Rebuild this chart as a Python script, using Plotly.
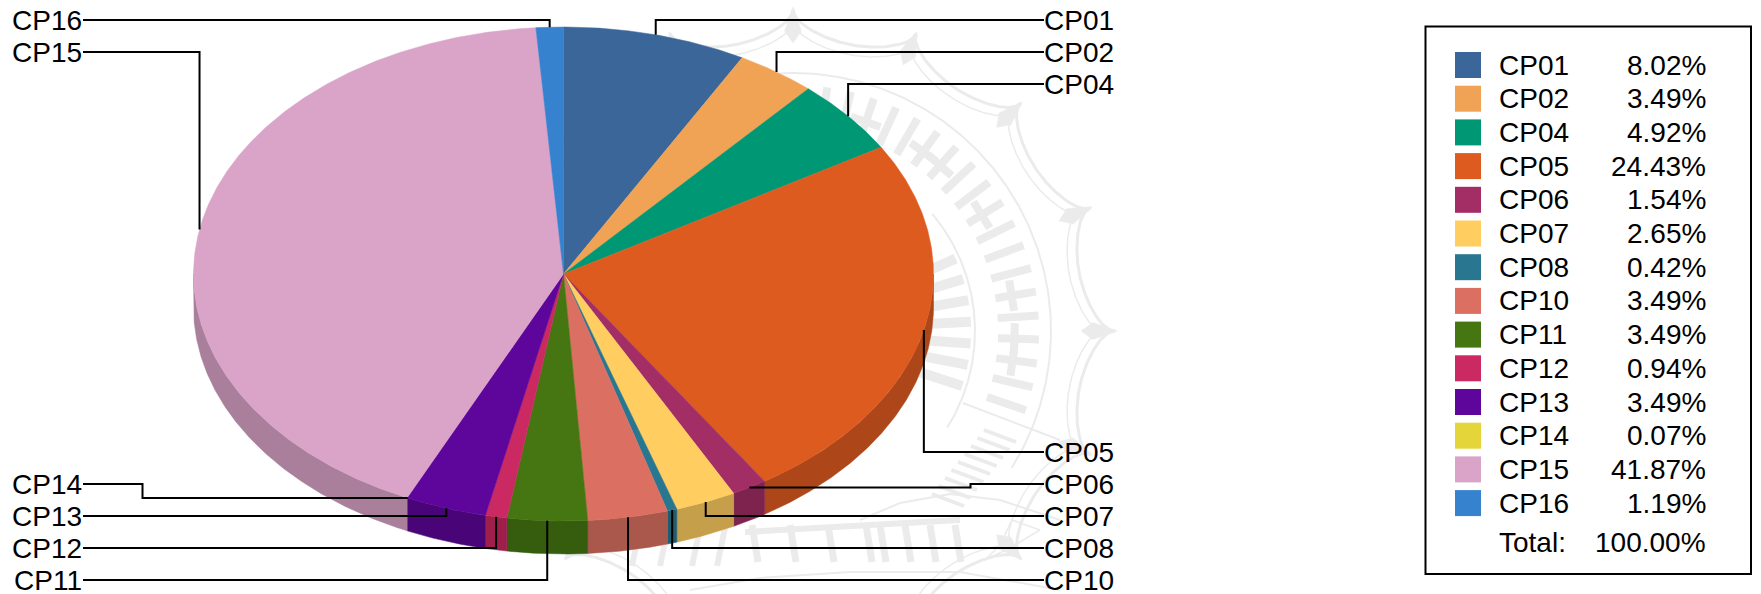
import numpy as np
import plotly.graph_objects as go

# ---- data ----
categories = ["CP01","CP02","CP04","CP05","CP06","CP07","CP08","CP10","CP11","CP12","CP13","CP14","CP15","CP16"]
percent = [8.02,3.49,4.92,24.43,1.54,2.65,0.42,3.49,3.49,0.94,3.49,0.07,41.87,1.19]
total_label = "100.00%"
colors = ["#3A6699","#F0A354","#009874","#DE5B1F","#A22E65","#FFCD60","#297690","#DB7062",
          "#467611","#CB2961","#5E069B","#E4D63A","#D9A4C8","#3682CF"]

# ---- leader-label layout: category -> (side, label row y, optional elbow x) ----
label_rows = {"CP01":("r",20,None),"CP02":("r",52,None),"CP04":("r",84,None),"CP05":("r",452,None),
              "CP06":("r",484,970.5),"CP07":("r",516,None),"CP08":("r",548,None),"CP10":("r",580,None),
              "CP11":("l",580,None),"CP12":("l",548,None),"CP13":("l",516,None),"CP14":("l",484,142.5),
              "CP15":("l",52,None),"CP16":("l",20,None)}

CX, CY, RX, RY, DEPTH = 563.5, 274.0, 370.0, 247.0, 33.0
SIDE_SHADE = 0.78
FONT = "Liberation Sans"
FS = 28
THIN = 0.1   # slices below this percent are too thin to paint, as in the reference

def shade(hexcol, k):
    r, g, b = int(hexcol[1:3],16), int(hexcol[3:5],16), int(hexcol[5:7],16)
    return "rgb(%d,%d,%d)" % (r*k, g*k, b*k)

def rim(t):
    t = np.radians(t)
    return CX + RX*np.sin(t), CY - RY*np.cos(t)

fig = go.Figure()

def poly(x, y, color):
    fig.add_trace(go.Scatter(x=list(x), y=list(y), mode="lines", fill="toself", fillcolor=color,
                             line=dict(width=0.5, color=color), hoverinfo="skip", showlegend=False))

def stroke(x, y, color="#000000", width=2.0):
    fig.add_trace(go.Scatter(x=list(x), y=list(y), mode="lines", line=dict(width=width, color=color),
                             hoverinfo="skip", showlegend=False))

# ---- faint seal watermark behind the pie ----
WM = "#EBEBEB"
SX, SY = 793.0, 331.0
def polar(r, deg):
    a = np.radians(deg)
    return SX + r*np.cos(a), SY + r*np.sin(a)

phi = np.linspace(0, 360, 1441)
for base, amp, w in [(322, 30, 3), (310, 28, 1.5)]:
    frac = (phi / 22.5) % 1
    r = base - amp*np.sqrt(np.abs(np.sin(np.pi*frac)))
    x, y = polar(r, phi)
    stroke(x, y, WM, w)
# filled tips of the scallops
for a in np.arange(0, 360, 22.5):
    rr = np.array([324.0, 300.0, 288.0, 300.0, 324.0])
    aa = np.array([a, a-1.6, a, a+1.6, a])
    x, y = polar(rr, aa)
    poly(x, y, WM)
# rings
for r_, a0, a1, w in [(182, -40, 32, 2), (258, -95, 32, 2)]:
    t = np.linspace(a0, a1, 200)
    x, y = polar(r_, t)
    stroke(x, y, WM, w)
# sun-ray ticks
for a in np.arange(-24, 25, 7.0):
    x, y = polar(np.array([128.0, 178.0]), a)
    stroke(x, y, WM, 10)
# lettering blocks in the text ring
for a in np.arange(-82, 22, 5.6):
    x, y = polar(np.array([205.0, 246.0]), a)
    stroke(x, y, WM, 8)
    if int(a*2) % 3 == 0:
        x, y = polar(np.array([222.0, 222.0]), np.array([a-4, a+4]))
        stroke(x, y, WM, 8)
# lower-right ladder, banner and lower lettering
stroke([963, 1060], [403, 440], WM, 2)
for i in range(9):
    stroke([1000-6.5*i-16, 1000-6.5*i+16], [430+8*i, 442+8*i], WM, 4)
stroke([860, 900, 950, 1000, 1060], [520, 503, 494, 500, 520], WM, 2)
stroke([690, 760, 850, 960, 1060], [590, 578, 572, 572, 590], WM, 2)
for xb in [752, 790, 828, 866, 880, 905, 930, 955]:
    stroke([xb, xb+6], [525, 562], WM, 7)
stroke([745, 960], [532, 520], WM, 6)
for xb in [640, 668, 700, 725]:
    stroke([xb, xb-8], [528, 566], WM, 6)
stroke([1000, 1012, 1040, 1010, 985, 1000], [545, 520, 530, 548, 560, 545], WM, 1.5)

# ---- slices computed from the values ----
cum = np.cumsum([0.0] + percent)
theta = cum / cum[-1] * 360.0

def slice_span(i):
    end = theta[i+1]
    if i + 1 < len(percent) and percent[i+1] < THIN:
        end = theta[i+2]          # the neighbour covers a hairline slice
    return theta[i], end

# front wall
for i, col in enumerate(colors):
    if percent[i] < THIN:
        continue
    s0, s1 = slice_span(i)
    a0, a1 = max(s0, 90.0), min(s1, 270.0)
    if a1 <= a0:
        continue
    t = np.linspace(a0, a1, max(3, int((a1-a0)*3)))
    x, y = rim(t)
    poly(np.r_[x, x[::-1], x[0]], np.r_[y, y[::-1]+DEPTH, y[0]], shade(col, SIDE_SHADE))

# top face
for i, col in enumerate(colors):
    if percent[i] < THIN:
        continue
    s0, s1 = slice_span(i)
    t = np.linspace(s0, s1, max(3, int((s1-s0)*3)))
    x, y = rim(t)
    poly(np.r_[CX, x, CX], np.r_[CY, y, CY], col)

# ---- leaders, anchored at each slice's mid angle ----
annotations = []
for i, cat in enumerate(categories):
    side, row, elbow = label_rows[cat]
    ax, ay = rim((theta[i] + theta[i+1]) / 2)
    x0 = 1044.0 if side == "r" else 83.0
    if elbow is None:
        xs, ys = [x0, ax, ax], [row, row, ay]
    else:
        xs, ys = [x0, elbow, elbow, ax], [row, row, ay, ay]
    stroke(xs, ys)
    annotations.append(dict(x=1043 if side == "r" else 83, y=row, xref="x", yref="y", text=cat, showarrow=False,
                            xanchor="left" if side == "r" else "right", yanchor="middle",
                            font=dict(family=FONT, size=FS, color="#000000"), borderpad=0))

# ---- legend ----
LEG_Y0, LEG_DY = 65.0, 33.7
rows = [LEG_Y0 + LEG_DY*i for i in range(len(categories))]
fig.add_trace(go.Scatter(x=[1468]*len(categories), y=rows, mode="markers",
                         marker=dict(symbol="square", size=26, color=colors, line=dict(width=0)),
                         hoverinfo="skip", showlegend=False))
for cat, v, yy in zip(categories, percent, rows):
    annotations.append(dict(x=1497.5, y=yy, xref="x", yref="y", text=cat, showarrow=False, xanchor="left",
                            yanchor="middle", font=dict(family=FONT, size=FS, color="#000000"), borderpad=0))
    annotations.append(dict(x=1707, y=yy, xref="x", yref="y", text="%.2f%%" % v, showarrow=False, xanchor="right",
                            yanchor="middle", font=dict(family=FONT, size=FS, color="#000000"), borderpad=0))
annotations.append(dict(x=1497.5, y=542, xref="x", yref="y", text="Total:", showarrow=False, xanchor="left",
                        yanchor="middle", font=dict(family=FONT, size=FS, color="#000000"), borderpad=0))
annotations.append(dict(x=1707, y=542, xref="x", yref="y", text=total_label, showarrow=False, xanchor="right",
                        yanchor="middle", font=dict(family=FONT, size=FS, color="#000000"), borderpad=0))

fig.update_layout(
    width=1761, height=594, margin=dict(l=0, r=0, t=0, b=0), paper_bgcolor="#FFFFFF", plot_bgcolor="#FFFFFF",
    xaxis=dict(range=[0, 1761], visible=False, fixedrange=True),
    yaxis=dict(range=[594, 0], visible=False, fixedrange=True),
    showlegend=False, annotations=annotations,
    shapes=[dict(type="rect", xref="x", yref="y", x0=1425.5, x1=1751, y0=26.5, y1=574,
                 line=dict(color="#000000", width=2), fillcolor="rgba(0,0,0,0)", layer="above")],
)
fig.write_html("out.html", config=dict(displayModeBar=False),
               post_script="document.body.style.margin='0';document.body.style.overflow='hidden';")
